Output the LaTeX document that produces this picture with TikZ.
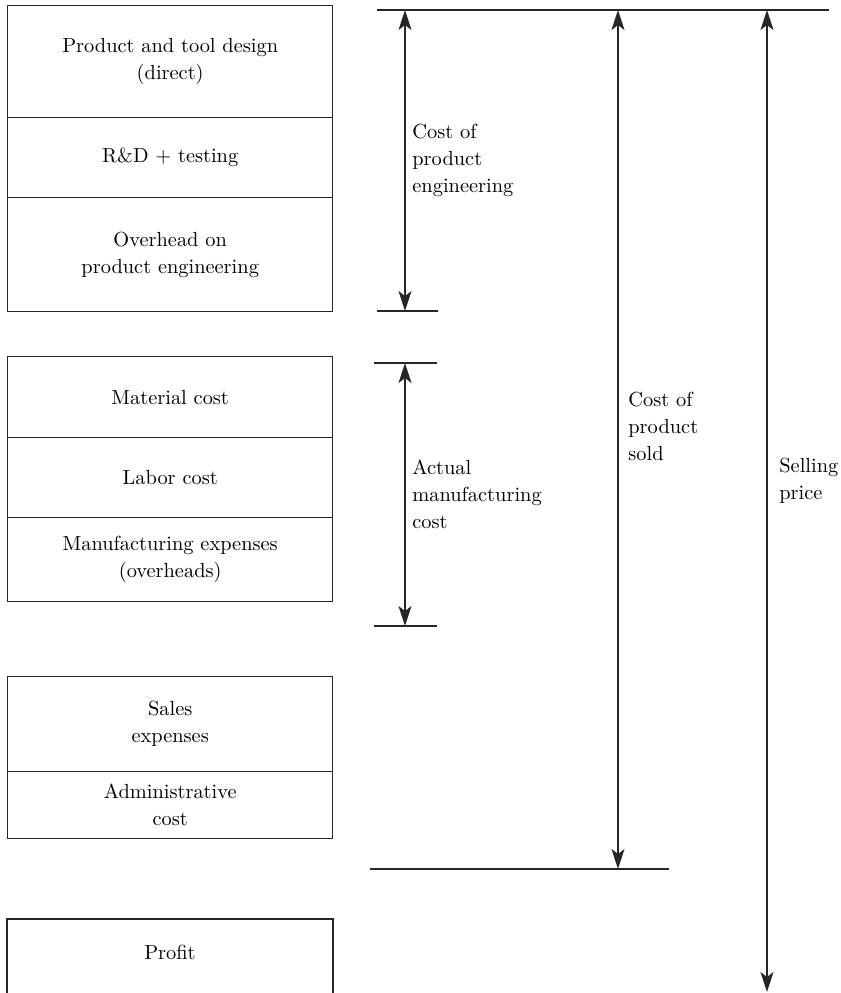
\documentclass[tikz,border=0pt]{standalone}
\usetikzlibrary{arrows.meta}
\begin{document}
\begin{tikzpicture}[x=0.5pt, y=-0.5pt,
  txt/.style={font=\fontsize{10.2}{13.5}\selectfont},
  cell/.style={txt, draw=black!85, line width=0.7pt, minimum width=162.5pt, inner sep=0pt,
    align=center, anchor=north west},
  lbl/.style={txt, align=left, anchor=west, inner sep=0pt},
  rule/.style={draw=black!85, line width=0.7pt},
  dim/.style={draw=black!85, line width=0.7pt, {Stealth[length=10pt,width=6.5pt,inset=2.5pt]}-{Stealth[length=10pt,width=6.5pt,inset=2.5pt]}}]
\useasboundingbox (0,0) rectangle (841,993);

% product engineering block
\node[cell, minimum height=56pt] (pd) at (7,5) {Product and tool design\\(direct)};
\node[cell, minimum height=40pt] (rd) at (7,117) {R\&D + testing};
\node[cell, minimum height=57pt] (oh) at (7,197) {Overhead on\\product engineering};

% manufacturing block
\node[cell, minimum height=40.5pt] (mc) at (7,356) {Material cost};
\node[cell, minimum height=40pt] (lc) at (7,437) {Labor cost};
\node[cell, minimum height=42pt] (me) at (7,517) {Manufacturing expenses\\(overheads)};

% sales and administration block
\node[cell, minimum height=47.5pt] (se) at (7,676) {Sales\\expenses};
\node[cell, minimum height=33.5pt] (ad) at (7,771) {Administrative\\cost};

% profit, open at the bottom
\node[txt, inner sep=0pt] (pf) at (170,952) {Profit};
\coordinate (pfBL) at (7,1000);
\coordinate (pfTL) at (7,919);
\coordinate (pfTR) at (333,919);
\coordinate (pfBR) at (333,1000);
\draw[rule] (pfBL) -- (pfTL) -- (pfTR) -- (pfBR);

% reference lines
\coordinate (topL) at (377,10);
\coordinate (topR) at (829,10);
\draw[rule] (topL) -- (topR);
\coordinate (peL) at (377,311); \coordinate (peR) at (438,311);
\draw[rule] (peL) -- (peR);
\coordinate (amtL) at (374,363); \coordinate (amtR) at (437,363);
\draw[rule] (amtL) -- (amtR);
\coordinate (ambL) at (374,626); \coordinate (ambR) at (437,626);
\draw[rule] (ambL) -- (ambR);
\coordinate (csL) at (370,869); \coordinate (csR) at (669,869);
\draw[rule] (csL) -- (csR);

% dimension arrows
\coordinate (peT) at (405,10); \coordinate (peB) at (405,311);
\draw[dim] (peT) -- (peB);
\coordinate (amT) at (405,363); \coordinate (amB) at (405,626);
\draw[dim] (amT) -- (amB);
\coordinate (csT) at (618,10); \coordinate (csB) at (618,869);
\draw[dim] (csT) -- (csB);
\coordinate (spT) at (767,10); \coordinate (spB) at (767,992);
\draw[dim] (spT) -- (spB);

% labels
\node[lbl] (peLbl) at (412,160) {Cost of\\product\\engineering};
\node[lbl] (amLbl) at (412,494) {Actual\\manufacturing\\cost};
\node[lbl] (csLbl) at (628,426) {Cost of\\product\\sold};
\node[lbl] (spLbl) at (779,481) {Selling\\price};
\end{tikzpicture}
\end{document}
